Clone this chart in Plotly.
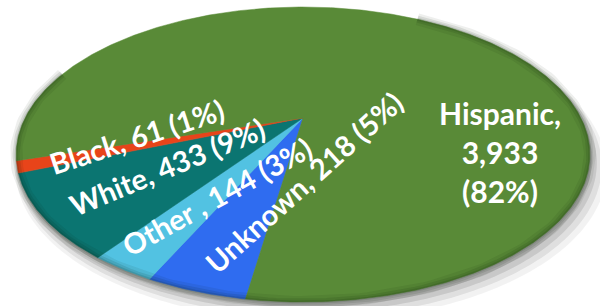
import numpy as np
import plotly.graph_objects as go

# ---- data ----
categories = ["Unknown", "Other", "White", "Black", "Hispanic"]
counts = [218, 144, 433, 61, 3933]
pct_labels = ["5%", "3%", "9%", "1%", "82%"]
label_names = ["Unknown", "Other ", "White", "Black", "Hispanic"]
colors = ["#2f6cf0", "#52c2e2", "#0b7571", "#e8441a", "#598a37"]

# ---- geometry of the tilted (perspective) pie ----
CX, CY = 303.0, 118.0      # apex (pie centre) on the page
A, B, K = 278.0, 138.5, 0.2475
START = 99.0               # degrees, first slice edge (clockwise on screen)


def proj(t_deg, scale=1.0):
    t = np.radians(t_deg)
    u, v = scale * np.cos(t), scale * np.sin(t)
    w = 1 - K * v
    return CX + A * u / w, CY + B * v / w


fig = go.Figure()

# soft shadow
full = np.linspace(0, 360, 361)
for dx, dy, sc, a in [(2, 5, 1.0, 0.12), (4, 8, 1.01, 0.10), (6, 11, 1.02, 0.08), (8, 14, 1.03, 0.05)]:
    x, y = proj(full)
    xs = CX + (x - CX) * sc + dx
    ys = CY + (y - CY) * sc + dy
    fig.add_trace(go.Scatter(x=xs, y=ys, fill="toself", mode="none",
                             fillcolor=f"rgba(0,0,0,{a})", hoverinfo="skip", showlegend=False))

total = sum(counts)
ang = START
for cat, c, col in zip(categories, counts, colors):
    span = 360.0 * c / total
    ts = np.linspace(ang, ang + span, max(3, int(span * 2)))
    x, y = proj(ts)
    xs = np.concatenate([[CX], x, [CX]])
    ys = np.concatenate([[CY], y, [CY]])
    fig.add_trace(go.Scatter(x=xs, y=ys, fill="toself", mode="lines",
                             line=dict(color=col, width=0.5), fillcolor=col,
                             name=cat, hoverinfo="name", showlegend=False))
    ang += span

# darker rim on the front/right edge
rim = np.linspace(-60, 200, 200)
for width, a in [(12, 0.07), (7, 0.10), (3, 0.12)]:
    x, y = proj(rim)
    fig.add_trace(go.Scatter(x=x, y=y, mode="lines",
                             line=dict(color=f"rgba(10,30,5,{a})", width=width),
                             hoverinfo="skip", showlegend=False))

font = dict(family="Lato, 'Open Sans', sans-serif", size=29, color="white")
texts = {cat: f"{n}, {c:,} ({p})" for cat, n, c, p in zip(categories, label_names, counts, pct_labels)}
annots = [
    ("Black", 136, 136, -18),
    ("White", 167, 166, -22.5),
    ("Other", 216, 196, -29),
    ("Unknown", 303, 182, -42),
]
for cat, x, y, rot in annots:
    fig.add_annotation(x=x, y=y, xref="x", yref="y", text=f"<b>{texts[cat]}</b>",
                       showarrow=False, textangle=rot, font=font,
                       xanchor="center", yanchor="middle")

hisp = "<b>Hispanic,<br>{:,}<br>({})</b>".format(counts[4], pct_labels[4])
fig.add_annotation(x=500, y=152, xref="x", yref="y", text=hisp, showarrow=False,
                   font=dict(family="Lato, 'Open Sans', sans-serif", size=30, color="white"),
                   align="center", xanchor="center", yanchor="middle")

fig.update_layout(
    width=600, height=306, margin=dict(l=0, r=0, t=0, b=0),
    paper_bgcolor="white", plot_bgcolor="white",
    xaxis=dict(range=[0, 600], visible=False, fixedrange=True),
    yaxis=dict(range=[306, 0], visible=False, fixedrange=True),
)
fig.write_html("out.html", config={"displayModeBar": False},
               post_script="document.body.style.margin='0';document.body.style.overflow='hidden';")
